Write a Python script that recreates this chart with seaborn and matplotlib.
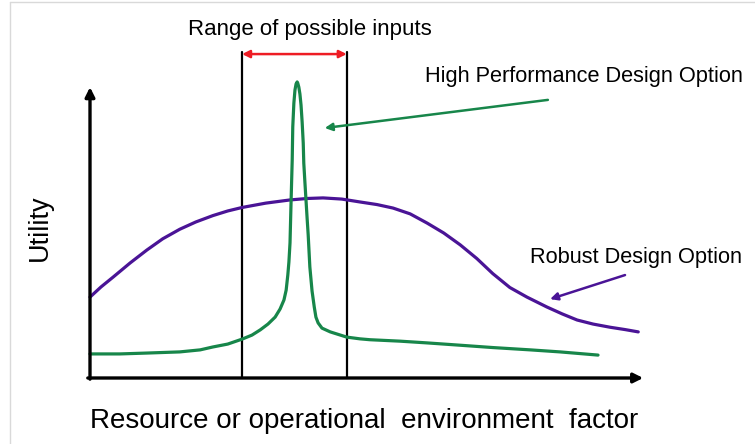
import matplotlib
matplotlib.use("Agg")
import matplotlib.pyplot as plt
from matplotlib.lines import Line2D
import pandas as pd
import seaborn as sns

# Environment factor (x) and utility (y) for the two design options
robust_x = [0.00, 0.20, 0.42, 0.73, 1.03, 1.32, 1.63, 1.92, 2.23, 2.50, 2.76,
            3.19, 3.63, 3.94, 4.23, 4.57, 4.90, 5.21, 5.50, 5.81, 6.12, 6.42,
            6.72, 7.02, 7.31, 7.62, 7.93, 8.11, 8.29, 8.57, 8.84, 9.13, 9.44,
            9.71, 9.95]
robust_y = [2.79, 3.14, 3.48, 3.97, 4.41, 4.80, 5.13, 5.38, 5.60, 5.76, 5.88,
            6.03, 6.14, 6.19, 6.21, 6.17, 6.07, 5.98, 5.86, 5.66, 5.34, 5.00,
            4.59, 4.12, 3.60, 3.12, 2.79, 2.62, 2.45, 2.21, 2.00, 1.86, 1.75,
            1.67, 1.59]

perf_x = [0.00, 0.54, 1.03, 1.63, 2.00, 2.23, 2.50, 2.76, 2.94, 3.09, 3.23,
          3.36, 3.45, 3.52, 3.56, 3.59, 3.61, 3.63, 3.65, 3.67, 3.68, 3.70,
          3.72, 3.74, 3.76, 3.77, 3.79, 3.81, 3.83, 3.85, 3.87, 3.88, 3.90,
          3.92, 3.94, 3.96, 3.99, 4.03, 4.07, 4.10, 4.14, 4.21, 4.36, 4.66,
          4.90, 5.08, 5.63, 6.12, 6.72, 7.31, 7.99, 8.53, 9.22]
perf_y = [0.83, 0.83, 0.86, 0.90, 0.97, 1.07, 1.17, 1.34, 1.48, 1.66, 1.86,
          2.10, 2.38, 2.69, 3.03, 3.55, 4.00, 4.66, 6.14, 7.52, 8.66, 9.48,
          9.93, 10.14, 10.21, 10.17, 10.03, 9.79, 9.41, 8.83, 8.10, 7.41, 6.76,
          6.14, 5.52, 4.93, 3.83, 3.00, 2.45, 2.10, 1.90, 1.72, 1.59, 1.41,
          1.35, 1.32, 1.27, 1.21, 1.13, 1.05, 0.97, 0.90, 0.79]

# Bounds of the range of possible inputs
input_range = [2.76, 4.66]

series_names = ["Robust Design Option", "High Performance Design Option"]
x_label = "Resource or operational  environment  factor"
y_label = "Utility"
range_label = "Range of possible inputs"

GREEN = "#17864a"
PURPLE = "#4a1496"
RED = "#ee1c24"

sns.set_theme(style="white")
plt.rcParams["font.family"] = ["Liberation Sans Narrow", "Liberation Sans", "DejaVu Sans"]

fig = plt.figure(figsize=(7.55, 4.44), dpi=100)
ax = fig.add_axes([0, 0, 1, 1])
# data units: origin sits at (90 px, 378 px) of the canvas
ax.set_xlim(-90 / 55.1, (755 - 90) / 55.1)
ax.set_ylim(-(444 - 378) / 29.0, 378 / 29.0)
ax.axis("off")

df = pd.concat([
    pd.DataFrame({"x": robust_x, "y": robust_y, "option": series_names[0]}),
    pd.DataFrame({"x": perf_x, "y": perf_y, "option": series_names[1]}),
])
sns.lineplot(data=df, x="x", y="y", hue="option", palette=[PURPLE, GREEN],
             estimator=None, sort=False, linewidth=2.3, legend=False, ax=ax)
for ln in ax.lines:
    ln.set_solid_capstyle("round")
    ln.set_solid_joinstyle("round")

# axes drawn as arrows
arrow_kw = dict(arrowstyle="-|>", color="black", lw=2.4, mutation_scale=14,
                shrinkA=0, shrinkB=0)
ax.annotate("", xy=(0, 10.03), xytext=(0, -0.04), arrowprops=arrow_kw)
ax.annotate("", xy=(10.04, 0), xytext=(-0.04, 0), arrowprops=arrow_kw)

# range of possible inputs
for xv in input_range:
    ax.plot([xv, xv], [0, 11.24], color="black", lw=1.6, zorder=1)
ax.annotate("", xy=(input_range[0], 11.17), xytext=(input_range[1], 11.17),
            arrowprops=dict(arrowstyle="<|-|>", color=RED, lw=1.8,
                            mutation_scale=11, shrinkA=0, shrinkB=0))
ax.text(3.99, 11.83, range_label, ha="center", va="baseline", fontsize=16,
        color="black")

# callouts
ax.text(6.08, 10.22, series_names[1], ha="left", va="baseline", fontsize=15.7,
        color="black")
ax.annotate("", xy=(4.26, 8.62), xytext=(8.31, 9.59),
            arrowprops=dict(arrowstyle="-|>", color=GREEN, lw=1.8,
                            mutation_scale=11, shrinkA=0, shrinkB=0))
ax.text(7.99, 3.97, series_names[0], ha="left", va="baseline", fontsize=15.7,
        color="black")
ax.annotate("", xy=(8.35, 2.72), xytext=(9.71, 3.55),
            arrowprops=dict(arrowstyle="-|>", color=PURPLE, lw=1.8,
                            mutation_scale=11, shrinkA=0, shrinkB=0))

# axis titles
ax.text(4.98, -1.72, x_label, ha="center", va="baseline", fontsize=20,
        color="black")
ax.text(-0.91, 5.17, y_label, ha="center", va="center", rotation=90,
        fontsize=19.5, color="black")

# thin frame along the top and left edge
fig.add_artist(Line2D([10 / 755, 10 / 755], [0, 1 - 2 / 444], color="#d9d9d9",
                      lw=1.0, transform=fig.transFigure))
fig.add_artist(Line2D([10 / 755, 1], [1 - 2 / 444, 1 - 2 / 444], color="#d9d9d9",
                      lw=1.0, transform=fig.transFigure))

fig.savefig("out.png", dpi=100)
